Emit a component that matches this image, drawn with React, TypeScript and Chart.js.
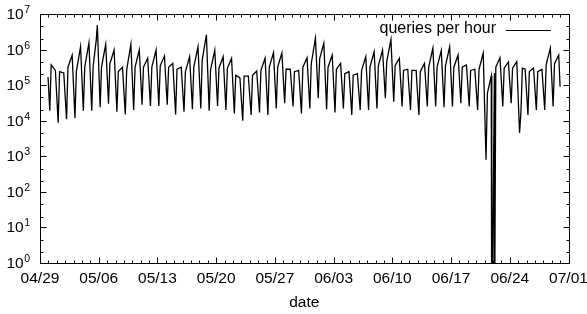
import React, { useEffect, useRef } from "react";
import { Chart, registerables } from "chart.js";

Chart.register(...registerables);

// ---- data ----
const dateLabels = ["04/29", "05/06", "05/13", "05/20", "05/27", "06/03", "06/10", "06/17", "06/24", "07/01"];
const yExponents = [0, 1, 2, 3, 4, 5, 6, 7];
const yMinorMultipliers = [2, 4.5];
const seriesLabel = "queries per hour";
const xTitle = "date";

// hour of day at which each daily sample is taken (days counted from 04/29 00:00)
const troughHour = 4;
const riseHour = 8;
const peakHour = 20;

// daily values for days 1..61 (04/30 .. 06/30)
const troughs = [
  1.9e4, 8.8e3, 1.1e4, 1.2e4, 1.9e4, 1.9e4, 2.4e4, 3.0e4, 1.8e4, 1.5e4,
  2.0e4, 2.8e4, 2.6e4, 2.6e4, 2.8e4, 1.5e4, 1.8e4, 2.1e4, 2.2e4, 1.9e4,
  2.6e4, 2.0e4, 1.6e4, 1.0e4, 1.45e4, 1.7e4, 1.45e4, 2.2e4, 3.1e4, 2.5e4,
  1.6e4, 2.2e4, 4.3e4, 2.1e4, 1.7e4, 2.2e4, 1.45e4, 2.0e4, 2.0e4, 2.2e4,
  4.3e4, 3.4e4, 2.5e4, 2.0e4, 1.45e4, 2.5e4, 2.5e4, 2.4e4, 2.5e4, 3.1e4,
  2.5e4, 2.0e4, 8.0e2, 2.2e5, 2.5e4, 3.1e4, 4.5e3, 1.45e4, 2.0e4, 2.0e4,
  2.5e4,
];
const rises = [
  3.7e5, 2.4e5, 3.2e5, 2.4e5, 3.2e5, 3.3e5, 3.2e5, 4.0e5, 2.4e5, 2.7e5,
  3.2e5, 3.2e5, 3.2e5, 3.5e5, 3.2e5, 2.8e5, 2.4e5, 3.2e5, 5.0e5, 2.7e5,
  3.0e5, 3.0e5, 1.9e5, 1.8e5, 1.9e5, 2.6e5, 3.2e5, 3.2e5, 2.8e5, 2.4e5,
  3.2e5, 4.0e5, 5.5e5, 3.2e5, 2.8e5, 2.1e5, 1.9e5, 2.6e5, 3.2e5, 3.5e5,
  4.6e5, 3.5e5, 2.6e5, 2.6e5, 2.4e5, 3.2e5, 3.2e5, 3.5e5, 3.2e5, 3.2e5,
  2.6e5, 2.8e5, 6.0e4, 3.2e5, 3.0e5, 3.0e5, 1.8e4, 2.4e5, 2.4e5, 3.7e5,
  4.0e5,
];
const peaks = [
  2.6e5, 2.2e5, 7.0e5, 1.2e6, 1.55e6, 4.9e6, 1.4e6, 9.7e5, 3.2e5, 1.4e6,
  9.7e5, 5.7e5, 9.7e5, 6.6e5, 4.1e5, 3.2e5, 6.3e5, 1.2e6, 2.6e6, 9.7e5,
  6.3e5, 5.7e5, 1.6e5, 1.8e5, 2.5e5, 5.7e5, 8.2e5, 8.0e5, 2.8e5, 2.6e5,
  5.9e5, 2.1e6, 1.5e6, 7.0e5, 4.1e5, 2.4e5, 2.1e5, 6.3e5, 8.7e5, 9.7e5,
  1.9e6, 5.7e5, 2.8e5, 2.6e5, 4.1e5, 1.1e6, 9.3e5, 1.2e6, 7.0e5, 3.7e5,
  2.8e5, 8.0e5, 1.6e5, 5.9e5, 4.5e5, 4.6e5, 2.8e5, 3.0e5, 2.8e5, 1.1e6,
  7.0e5,
];
// extra individual hourly samples (hours since 04/29 00:00); 1e-3 stands for zero queries
const extraHours = [23, 161, 1291, 1293, 1300, 1380, 1488];
const extraValues = [1.7e5, 1.9e6, 1.8e5, 1e-3, 1e-3, 3.0e5, 9.0e4];

const FONT = '"Liberation Sans", Arial, Helvetica, sans-serif';

function buildPoints() {
  const pts: { x: number; y: number }[] = [];
  troughs.forEach((v, i) => {
    const d = i + 1;
    pts.push({ x: (d * 24 + troughHour) / 24, y: v });
    pts.push({ x: (d * 24 + riseHour) / 24, y: rises[i] });
    pts.push({ x: (d * 24 + peakHour) / 24, y: peaks[i] });
  });
  extraHours.forEach((h, i) => pts.push({ x: h / 24, y: extraValues[i] }));
  pts.sort((a, b) => a.x - b.x);
  return pts;
}

const framePlugin = {
  id: "gnuplotFrame",
  afterDraw(chart: any) {
    const { ctx, chartArea: a, scales } = chart;
    const xs = scales.x;
    const ys = scales.y;
    const L = Math.round(a.left) + 0.5;
    const R = Math.round(a.right) + 0.5;
    const T = Math.round(a.top) + 0.5;
    const B = Math.round(a.bottom) + 0.5;
    ctx.save();
    ctx.strokeStyle = "#000";
    ctx.lineWidth = 1;
    ctx.beginPath();
    ctx.rect(L, T, R - L, B - T);
    for (let d = 0; d <= 63; d++) {
      const px = Math.round(xs.getPixelForValue(d)) + 0.5;
      const len = d % 7 === 0 ? 6 : 3;
      ctx.moveTo(px, B);
      ctx.lineTo(px, B - len);
      ctx.moveTo(px, T);
      ctx.lineTo(px, T + len);
    }
    yExponents.forEach((e) => {
      const py = Math.round(ys.getPixelForValue(Math.pow(10, e))) + 0.5;
      ctx.moveTo(L, py);
      ctx.lineTo(L + 6, py);
      ctx.moveTo(R, py);
      ctx.lineTo(R - 6, py);
      if (e < 7) {
        yMinorMultipliers.forEach((m) => {
          const pm = Math.round(ys.getPixelForValue(m * Math.pow(10, e))) + 0.5;
          ctx.moveTo(L, pm);
          ctx.lineTo(L + 3, pm);
          ctx.moveTo(R, pm);
          ctx.lineTo(R - 3, pm);
        });
      }
    });
    ctx.stroke();

    ctx.fillStyle = "#000";
    ctx.font = `15.5px ${FONT}`;
    ctx.textAlign = "center";
    ctx.textBaseline = "alphabetic";
    dateLabels.forEach((lab, k) => {
      const px = xs.getPixelForValue(k * 7);
      ctx.fillText(lab, px, a.bottom + 20);
    });
    ctx.fillText(xTitle, (a.left + a.right) / 2, a.bottom + 44);

    const expRight = a.left - 10;
    yExponents.forEach((e) => {
      const py = ys.getPixelForValue(Math.pow(10, e));
      ctx.font = `10.5px ${FONT}`;
      ctx.textAlign = "right";
      const es = String(e);
      const ew = ctx.measureText(es).width;
      ctx.fillText(es, expRight, py - 1);
      ctx.font = `15.5px ${FONT}`;
      ctx.fillText("10", expRight - ew - 0.5, py + 5);
    });

    ctx.font = `16px ${FONT}`;
    ctx.textAlign = "right";
    ctx.fillText(seriesLabel, 496, a.top + 19);
    ctx.beginPath();
    ctx.moveTo(506, a.top + 16.5);
    ctx.lineTo(551, a.top + 16.5);
    ctx.stroke();
    ctx.restore();
  },
};

export default function App() {
  const ref = useRef<HTMLCanvasElement | null>(null);
  useEffect(() => {
    if (!ref.current) return;
    const chart = new Chart(ref.current, {
      type: "line",
      data: {
        datasets: [
          {
            label: seriesLabel,
            data: buildPoints(),
            borderColor: "#000",
            borderWidth: 1.3,
            pointRadius: 0,
            tension: 0,
            fill: false,
          },
        ],
      },
      options: {
        responsive: false,
        animation: false,
        devicePixelRatio: 1,
        layout: { padding: { left: 40, top: 14, right: 18.5, bottom: 51 } },
        plugins: { legend: { display: false }, tooltip: { enabled: false } },
        scales: {
          x: { type: "linear", min: 0, max: 63, display: false },
          y: { type: "logarithmic", min: 1, max: 1e7, display: false },
        },
      },
      plugins: [framePlugin],
    });
    return () => chart.destroy();
  }, []);
  return (
    <div style={{ position: "fixed", left: 0, top: 0, width: 587, height: 314, background: "#fff" }}>
      <canvas ref={ref} width={587} height={314} style={{ display: "block" }} />
    </div>
  );
}
